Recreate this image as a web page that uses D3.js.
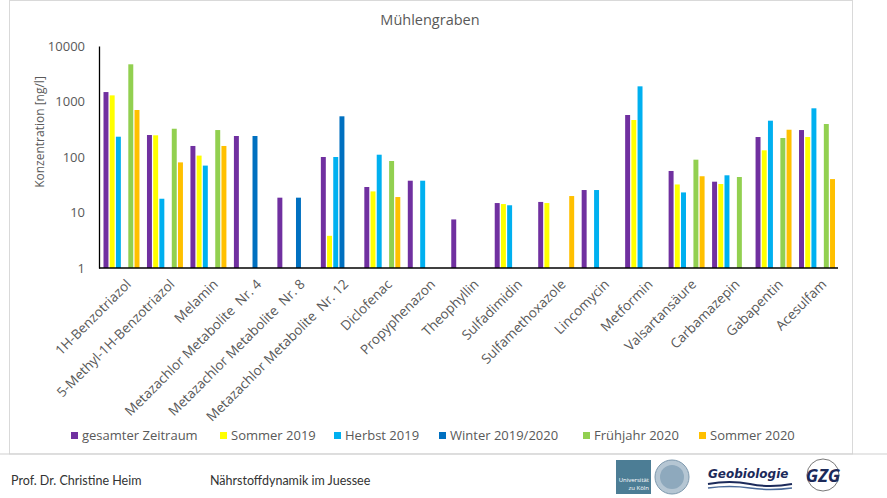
<!DOCTYPE html>
<meta charset="utf-8">
<style>
body { margin: 0; background: #fff; }
text { font-family: "Open Sans", sans-serif; fill: #595959; }
.cat { white-space: pre; }
.foot { font-family: Lato, sans-serif; fill: #333; font-size: 12.5px; }
</style>
<svg width="887" height="498"></svg>
<script src="https://cdn.jsdelivr.net/npm/d3@7"></script>
<script>
// data
var categories = ["1H-Benzotriazol", "5-Methyl-1H-Benzotriazol", "Melamin", "Metazachlor Metabolite  Nr. 4",
  "Metazachlor Metabolite  Nr. 8", "Metazachlor Metabolite  Nr. 12", "Diclofenac", "Propyphenazon", "Theophyllin",
  "Sulfadimidin", "Sulfamethoxazole", "Lincomycin", "Metformin", "Valsartansäure", "Carbamazepin", "Gabapentin", "Acesulfam"];
var seriesNames = ["gesamter Zeitraum", "Sommer 2019", "Herbst 2019", "Winter 2019/2020", "Frühjahr 2020", "Sommer 2020"];
var colors = ["#7030A0", "#FFFF00", "#00B0F0", "#0070C0", "#92D050", "#FFC000"];
var gesamt   = [1480, 249, 158, 239, 18.5, 100, 28.8, 37.4, 7.5, 14.8, 15.5, 25.4, 571, 56, 35.9, 229, 306];
var sommer19 = [1290, 246, 106, null, null, 3.8, 24, null, null, 14.2, 14.8, null, 464, 32, 32.6, 132, 229];
var herbst19 = [232, 17.7, 70, null, null, 100, 110, 37.4, null, 13.5, null, 25.4, 1876, 23, 46.8, 451, 754];
var winter   = [null, null, null, 239, 18.5, 541, null, null, null, null, null, null, null, null, null, null, null];
var fruehj20 = [4680, 323, 306, null, null, null, 84.7, null, null, null, null, null, null, 89.5, 43.6, 220, 393];
var sommer20 = [703, 80, 158, null, null, null, 19, null, null, null, 19.8, null, null, 45, null, 310, 40];
var yTicks = [1, 10, 100, 1000, 10000];

var series = [gesamt, sommer19, herbst19, winter, fruehj20, sommer20];

var svg = d3.select("svg");

// slide frame
svg.append("rect").attr("x", 9.5).attr("y", 0.5).attr("width", 843).attr("height", 453.5)
  .attr("fill", "none").attr("stroke", "#d9d9d9");
svg.append("line").attr("x1", 0).attr("x2", 887).attr("y1", 454).attr("y2", 454)
  .attr("stroke", "#cfcfcf");

var x0 = d3.scaleBand().domain(categories).range([99, 838]),
    x1 = d3.scaleBand().domain(d3.range(6)).range([4.5, x0.bandwidth() - 3]).paddingInner(0.2),
    y = d3.scaleLog().domain([1, 10000]).range([268, 46]);

svg.append("text")
  .attr("x", 430).attr("y", 25)
  .attr("text-anchor", "middle")
  .style("font-size", "14.5px")
  .text("Mühlengraben");

// bars
var groups = svg.append("g").selectAll("g")
  .data(categories)
  .enter().append("g")
  .attr("transform", function(d) { return "translate(" + x0(d) + ",0)"; });

groups.selectAll("rect")
  .data(function(d, i) { return series.map(function(s, j) { return {j: j, v: s[i]}; }).filter(function(e) { return e.v != null; }); })
  .enter().append("rect")
  .attr("x", function(d) { return x1(d.j); })
  .attr("width", x1.bandwidth())
  .attr("y", function(d) { return y(d.v); })
  .attr("height", function(d) { return y(1) - y(d.v); })
  .attr("fill", function(d) { return colors[d.j]; });

// axes
var yAxis = svg.append("g")
  .attr("transform", "translate(99,0)")
  .call(d3.axisLeft(y).tickValues(yTicks).tickFormat(d3.format("d")).tickSize(0).tickPadding(14));
yAxis.select(".domain").attr("stroke", "#000").attr("stroke-width", 1.3);
yAxis.selectAll("text").style("font-size", "13px").attr("fill", "#595959").style("font-family", "Open Sans, sans-serif");

svg.append("line").attr("x1", 99).attr("x2", 838).attr("y1", 268).attr("y2", 268)
  .attr("stroke", "#000").attr("stroke-width", 1.3);

svg.append("text")
  .attr("transform", "translate(44,132) rotate(-90)")
  .attr("text-anchor", "middle")
  .style("font-size", "12px")
  .text("Konzentration [ng/l]");

svg.append("g").selectAll("text")
  .data(categories)
  .enter().append("text")
  .attr("class", "cat")
  .attr("transform", function(d) { return "translate(" + (x0(d) + x0.bandwidth() / 2 + 4) + ",278) rotate(-45)"; })
  .attr("text-anchor", "end")
  .attr("dy", "0.75em")
  .style("font-size", "13.5px")
  .text(function(d) { return d; });

// legend
var legendX = [71, 220, 334, 439, 583, 699];
var legend = svg.append("g").selectAll("g")
  .data(seriesNames)
  .enter().append("g")
  .attr("transform", function(d, i) { return "translate(" + legendX[i] + ",432)"; });
legend.append("rect").attr("width", 7).attr("height", 7).attr("fill", function(d, i) { return colors[i]; });
legend.append("text").attr("x", 11).attr("y", 8).style("font-size", "13px").text(function(d) { return d; });

// footer
svg.append("text").attr("class", "foot").attr("x", 11).attr("y", 485).text("Prof. Dr. Christine Heim");
svg.append("text").attr("class", "foot").attr("x", 210).attr("y", 485).text("Nährstoffdynamik im Juessee");

// logos (rough)
var logo = svg.append("g");
logo.append("rect").attr("x", 616).attr("y", 460).attr("width", 35).attr("height", 34).attr("fill", "#4C7D95");
logo.append("text").attr("x", 649).attr("y", 482).attr("text-anchor", "end").style("font-size", "6px").style("fill", "#fff").text("Universität");
logo.append("text").attr("x", 649).attr("y", 490).attr("text-anchor", "end").style("font-size", "6px").style("fill", "#fff").text("zu Köln");
logo.append("circle").attr("cx", 672).attr("cy", 477).attr("r", 17).attr("fill", "#b5c6d3").attr("stroke", "#7d98ad");
logo.append("circle").attr("cx", 672).attr("cy", 477).attr("r", 12).attr("fill", "#8ea9bd");
logo.append("text").attr("x", 708).attr("y", 478).style("font-size", "12px").style("font-weight", "bold")
  .style("font-style", "italic").style("fill", "#1c2a5a").style("font-family", "DejaVu Sans, sans-serif").text("Geobiologie");
logo.append("path").attr("d", "M708,484 Q730,480 750,484 T792,484").attr("fill", "none").attr("stroke", "#1c2a5a").attr("stroke-width", 2);
logo.append("path").attr("d", "M708,488 Q730,485 750,488 T792,488").attr("fill", "none").attr("stroke", "#4a6a9a").attr("stroke-width", 1.5);
logo.append("circle").attr("cx", 823).attr("cy", 475).attr("r", 16).attr("fill", "none").attr("stroke", "#555").attr("stroke-width", 0.8);
logo.append("text").attr("x", 823).attr("y", 482).attr("text-anchor", "middle").style("font-size", "18px").style("font-weight", "bold")
  .style("font-style", "italic").style("fill", "#1c2a5a").text("GZG");
</script>
